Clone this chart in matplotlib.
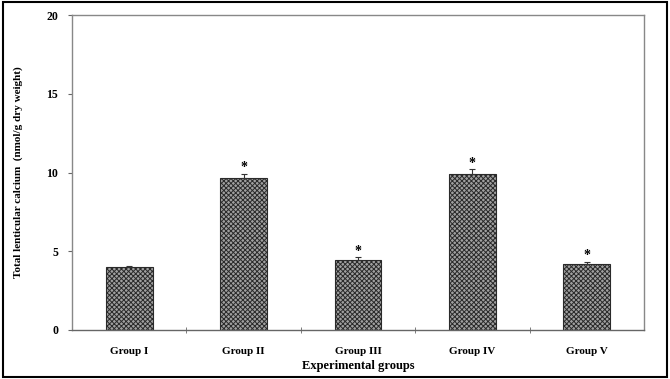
import numpy as np
import matplotlib.pyplot as plt
from matplotlib.patches import Rectangle

# ======== data ========
groups = ['Group I', 'Group II', 'Group III', 'Group IV', 'Group V']
calcium = [3.98, 9.63, 4.44, 9.90, 4.17]
calcium_err = [0.10, 0.28, 0.17, 0.30, 0.13]
significant = [False, True, True, True, True]

plt.rcParams['font.family'] = 'Liberation Serif'
plt.rcParams['font.weight'] = 'bold'
plt.rcParams['hatch.linewidth'] = 0.7

fig = plt.figure(figsize=(6.7, 3.79), dpi=100)
ax = fig.add_axes([72 / 670, 1 - 330 / 379, 572 / 670, 315 / 379])

x = np.arange(len(groups))
ax.bar(x, calcium, width=0.41, color='#a0a0a0', edgecolor='#2a2a2a',
       hatch='xxxxxxx', linewidth=0.8, zorder=2)
ax.errorbar(x, calcium, yerr=[np.zeros(len(x)), calcium_err], fmt='none',
            ecolor='#333333', elinewidth=0.8, capsize=2.5, capthick=0.8, zorder=3)

# significance marks
for xi, v, e, s in zip(x, calcium, calcium_err, significant):
    if s:
        ax.text(xi, v + e + 0.4, '*', ha='center', va='center',
                fontsize=10, fontweight='bold')

ax.set_xlim(-0.5, len(groups) - 0.5)
ax.set_ylim(0, 20)
ax.set_yticks([0, 5, 10, 15, 20])
ax.set_xticks(x)
ax.set_xticklabels(groups, fontsize=8, fontweight='bold')
ax.set_xticks(x[:-1] + 0.5, minor=True)
ax.tick_params(axis='x', which='major', length=0, pad=12)
ax.tick_params(axis='x', which='minor', length=4, direction='inout', color='#666666')
ax.tick_params(axis='y', length=3, direction='out', color='#666666', labelsize=8.5, pad=7)
for lab in ax.get_yticklabels():
    lab.set_fontweight('bold')

for sp in ax.spines.values():
    sp.set_color('#888888')
    sp.set_linewidth(1.0)
ax.spines['bottom'].set_color('#666666')

ax.set_xlabel('Experimental groups', fontsize=9, fontweight='bold', labelpad=3)
ax.set_ylabel('Total lenticular calcium  (nmol/g dry weight)', fontsize=8,
              fontweight='bold', labelpad=17)

# outer frame
fig.patches.append(Rectangle((0.004, 0.004), 0.992, 0.992, transform=fig.transFigure,
                             fill=False, edgecolor='black', linewidth=1.5))

plt.savefig('out.png', dpi=100)
